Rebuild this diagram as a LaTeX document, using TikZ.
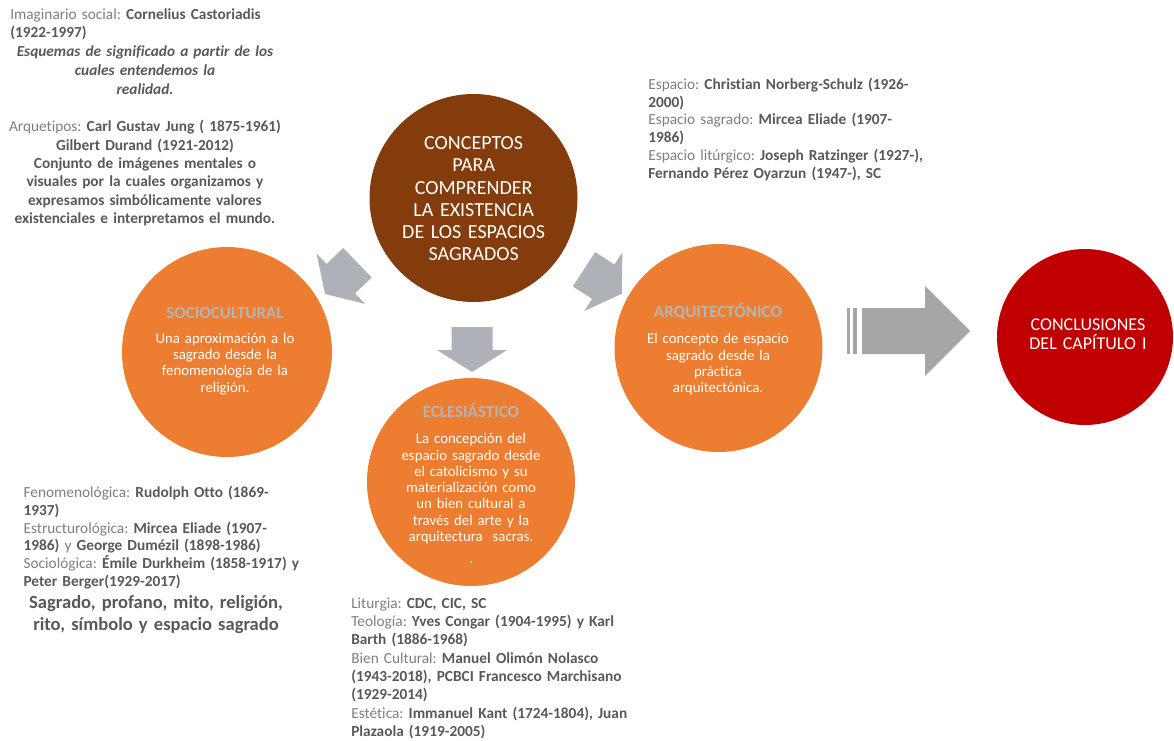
\documentclass[tikz,border=0pt]{standalone}
\usepackage{fontspec}
\setmainfont{Carlito}[Ligatures={NoCommon,NoContextual}]
\definecolor{cbrown}{HTML}{843C0C}
\definecolor{corange}{HTML}{ED7D31}
\definecolor{cred}{HTML}{C00000}
\definecolor{carrow}{HTML}{AEB1B8}
\definecolor{cbigarrow}{HTML}{A6A6A6}
\definecolor{tlight}{HTML}{7F7F7F}
\definecolor{tdark}{HTML}{595959}
\definecolor{ttitle}{HTML}{B4B4B4}
\newcommand{\dkb}[1]{{\bfseries\color{tdark}#1}}
\newcommand{\myfsz}[2]{\fontsize{#1}{#2}\selectfont\lineskiplimit=-30pt\lineskip=0pt\frenchspacing}
\newcommand{\blockarr}[2]{%
  \begin{scope}[shift={#1}, rotate=#2]
    \fill[carrow] (0,-20.5) -- (23,-20.5) -- (23,-35) -- (45,0) -- (23,35) -- (23,20.5) -- (0,20.5) -- cycle;
  \end{scope}}
\lineskiplimit=-30pt
\lineskip=0pt
\frenchspacing
\begin{document}
\begin{tikzpicture}[x=0.75pt,y=-0.75pt,
  circ/.style={circle, inner sep=0pt, draw=none},
  outer/.style={inner sep=0pt, text=tlight, text width=#1, align=left, anchor=base west},
  ctext/.style={inner sep=0pt, text=white, text width=#1, align=center, anchor=base}]
\fill[white] (0,0) rectangle (1174,740);
\useasboundingbox (0,0) rectangle (1174,740);

% circles
\node[circ, fill=cbrown, minimum size=156pt] (centro) at (473.5,198) {};
\node[circ, fill=corange, minimum size=157.5pt] (socio) at (227,352) {};
\node[circ, fill=corange, minimum size=156pt] (ecle) at (471,482) {};
\node[circ, fill=corange, minimum size=156pt] (arqui) at (718.5,348) {};
\node[circ, fill=cred, minimum size=132pt] (concl) at (1085,337) {};

% small block arrows
\blockarr{(357.4,262.7)}{224}
\blockarr{(472,327)}{-90}
\blockarr{(584,269.2)}{-33}

% big striped arrow
\fill[cbigarrow] (847,308) rectangle (849.5,354);
\fill[cbigarrow] (853,308) rectangle (857,354);
\fill[cbigarrow] (862,308) -- (925,308) -- (925,286) -- (970,331) -- (925,376) -- (925,354) -- (862,354) -- cycle;

% circle texts
\node[ctext=170pt, font=\myfsz{15pt}{16.65pt}] (centrot) at (473.7,149.7)
  {CONCEPTOS\\PARA\\COMPRENDER\\LA EXISTENCIA\\DE LOS ESPACIOS\\SAGRADOS};
\node[ctext=150pt, font=\myfsz{11.1pt}{12.15pt}] (sociot) at (225,318.5)
  {{\fontsize{12.75pt}{12.15pt}\selectfont\bfseries\color{ttitle}SOCIOCULTURAL}\\[6.6pt]Una aproximación a lo\\sagrado desde la\\fenomenología de la\\religión.};
\node[ctext=150pt, font=\myfsz{11.1pt}{12.2pt}] (eclet) at (471,417)
  {{\fontsize{12.75pt}{12.2pt}\selectfont\bfseries\color{ttitle}ECLESIÁSTICO}\\[7.9pt]La concepción del\\espacio sagrado desde\\el catolicismo y su\\materialización como\\un bien cultural a\\través del arte y la\\arquitectura\ \ sacras.\\[4pt].};
\node[ctext=150pt, font=\myfsz{11.1pt}{12.15pt}] (arquit) at (718,317.2)
  {{\fontsize{12.75pt}{12.15pt}\selectfont\bfseries\color{ttitle}ARQUITECTÓNICO}\\[7.8pt]El concepto de espacio\\sagrado desde la\\práctica\\arquitectónica.};
\node[ctext=130pt, font=\myfsz{13.5pt}{13.7pt}] (conclt) at (1088,330.8)
  {CONCLUSIONES\\DEL CAPÍTULO I};

% outer texts
\node[outer=300pt, font=\myfsz{11.5pt}{14pt}] (imag) at (10,19.3)
  {Imaginario social: \dkb{Cornelius Castoriadis}\\\dkb{(1922-1997)}};
\node[ctext=250pt, text=tdark, font=\myfsz{11.5pt}{14.25pt}\bfseries\itshape] (esq) at (145,56.7)
  {Esquemas de significado a partir de los\\cuales entendemos la\\realidad.};
\node[ctext=260pt, text=tlight, font=\myfsz{11.5pt}{13.75pt}] (arqt) at (145,131.7)
  {Arquetipos: \dkb{Carl Gustav Jung ( 1875-1961)}\\\dkb{Gilbert Durand (1921-2012)}\\\dkb{Conjunto de imágenes mentales o}\\\dkb{visuales por la cuales organizamos y}\\\dkb{expresamos simbólicamente valores}\\\dkb{existenciales e interpretamos el mundo.}};
\node[outer=300pt, font=\myfsz{11.5pt}{13.35pt}] (esp) at (648,89.3)
  {Espacio: \dkb{Christian Norberg-Schulz (1926-}\\\dkb{2000)}\\Espacio sagrado: \dkb{Mircea Eliade (1907-}\\\dkb{1986)}\\Espacio litúrgico: \dkb{Joseph Ratzinger (1927-),}\\\dkb{Fernando Pérez Oyarzun (1947-), SC}};
\node[outer=300pt, font=\myfsz{11.5pt}{13.4pt}] (fen) at (23.3,497.3)
  {Fenomenológica: \dkb{Rudolph Otto (1869-}\\\dkb{1937)}\\Estructurológica: \dkb{Mircea Eliade (1907-}\\\dkb{1986)} y \dkb{George Dumézil (1898-1986)}\\Sociológica: \dkb{Émile Durkheim (1858-1917) y}\\\dkb{Peter Berger(1929-2017)}};
\node[ctext=260pt, text=tdark, font=\myfsz{13.9pt}{16.3pt}\bfseries] (temas) at (156,608.3)
  {Sagrado, profano, mito, religión,\\rito, símbolo y espacio sagrado};
\node[outer=300pt, font=\myfsz{11.5pt}{13.75pt}] (lit) at (351,608.3)
  {Liturgia: \dkb{CDC, CIC, SC}\\Teología: \dkb{Yves Congar (1904-1995) y Karl}\\\dkb{Barth (1886-1968)}\\Bien Cultural: \dkb{Manuel Olimón Nolasco}\\\dkb{(1943-2018), PCBCI Francesco Marchisano}\\\dkb{(1929-2014)}\\Estética: \dkb{Immanuel Kant (1724-1804), Juan}\\\dkb{Plazaola (1919-2005)}};
\end{tikzpicture}
\end{document}
